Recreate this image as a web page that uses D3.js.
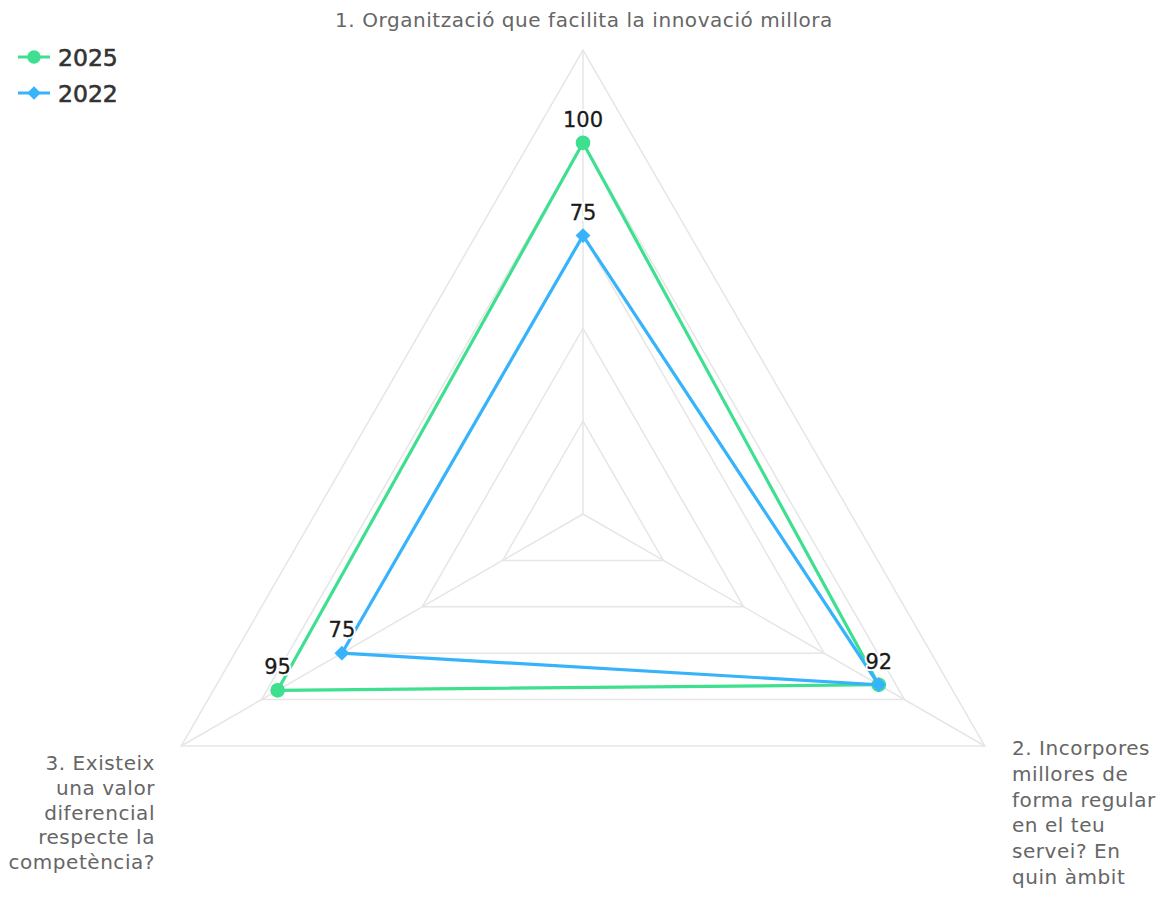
<!DOCTYPE html>
<html>
<head>
<meta charset="utf-8">
<script src="https://cdn.jsdelivr.net/npm/d3@7/dist/d3.min.js"></script>
<style>
  html, body { margin: 0; padding: 0; background: #fff; }
  svg { display: block; }
</style>
</head>
<body>
<svg id="chart" width="1166" height="897"></svg>
<script>
// Radar axes (one per question)
const categories = [
  ["1. Organització que facilita la innovació millora"],
  ["2. Incorpores", "millores de", "forma regular", "en el teu", "servei? En", "quin àmbit"],
  ["3. Existeix", "una valor", "diferencial", "respecte la", "competència?"]
];
const seriesNames = ["2025", "2022"];
const values2025 = [100, 92, 95];
const values2022 = [75, 92, 75];
const gridTicks = [25, 50, 75, 100, 125];

const colors = { "2025": "#3ee08f", "2022": "#36b3fb" };

// Highcharts-style diamond: a square turned 45 degrees
const diamond = {
  draw(ctx, size) {
    const h = Math.sqrt(size / 2);
    ctx.moveTo(0, -h); ctx.lineTo(h, 0); ctx.lineTo(0, h); ctx.lineTo(-h, 0); ctx.closePath();
  }
};

const series = [
  { name: seriesNames[0], values: values2025, symbol: d3.symbolCircle, size: 170, legendSize: 140 },
  { name: seriesNames[1], values: values2022, symbol: diamond, size: 110, legendSize: 90 }
];

const svg = d3.select("#chart");
const cx = 583, cy = 514, R = 464;

const r = d3.scaleLinear().domain([0, d3.max(gridTicks)]).range([0, R]);
const angle = d3.scaleLinear().domain([0, categories.length]).range([0, 2 * Math.PI]);
const pt = (i, v) => {
  const a = angle(i);
  return [cx + r(v) * Math.sin(a), cy - r(v) * Math.cos(a)];
};

// Polygon grid
const grid = svg.append("g");
gridTicks.forEach(t => {
  const pts = categories.map((c, i) => pt(i, t));
  grid.append("path")
    .attr("d", d3.line()(pts) + "Z")
    .attr("fill", "none")
    .attr("stroke", "#e6e6e6")
    .attr("stroke-width", 1.5);
});
// Spokes
categories.forEach((c, i) => {
  const [x, y] = pt(i, d3.max(gridTicks));
  grid.append("line")
    .attr("x1", cx).attr("y1", cy).attr("x2", x).attr("y2", y)
    .attr("stroke", "#e6e6e6").attr("stroke-width", 1.5);
});

// Axis labels
const labelFont = "'DejaVu Sans', Verdana, sans-serif";
const labelPos = [
  { x: 584, y: 27, anchor: "middle", lh: 26 },
  { x: 1012, y: 755, anchor: "start", lh: 25.8 },
  { x: 155, y: 770, anchor: "end", lh: 24.8 }
];
categories.forEach((lines, i) => {
  const p = labelPos[i];
  const t = svg.append("text")
    .attr("x", p.x).attr("y", p.y)
    .attr("text-anchor", p.anchor)
    .attr("font-family", labelFont)
    .attr("font-size", 20)
    .attr("letter-spacing", 0.55)
    .attr("fill", "#666");
  lines.forEach((ln, k) => {
    t.append("tspan").attr("x", p.x).attr("y", p.y + k * p.lh).text(ln);
  });
});

// Series lines and markers
const lineGen = d3.line().curve(d3.curveLinearClosed);
series.forEach(s => {
  const pts = s.values.map((v, i) => pt(i, v));
  const g = svg.append("g");
  g.append("path")
    .attr("d", lineGen(pts))
    .attr("fill", "none")
    .attr("stroke", colors[s.name])
    .attr("stroke-width", 3.2)
    .attr("stroke-linejoin", "round");
  g.selectAll("path.mk").data(pts).join("path")
    .attr("class", "mk")
    .attr("transform", d => `translate(${d[0]},${d[1]})`)
    .attr("d", d3.symbol().type(s.symbol).size(s.size))
    .attr("fill", colors[s.name]);
});

// Data labels
series.forEach(s => {
  s.values.forEach((v, i) => {
    const [x, y] = pt(i, v);
    const lbl = svg.append("g");
    [["#fff", 4], [null, 0]].forEach(([halo, w]) => {
      const t = lbl.append("text")
        .attr("x", x).attr("y", y - 16)
        .attr("text-anchor", "middle")
        .attr("font-family", labelFont)
        .attr("font-size", 21)
        .attr("fill", "#1a1a1a")
        .text(v);
      if (halo) t.attr("stroke", halo).attr("stroke-width", w).attr("stroke-linejoin", "round").attr("fill", halo);
      else t.attr("stroke", "#1a1a1a").attr("stroke-width", 0.3);
    });
  });
});

// Legend
const legend = svg.append("g");
series.forEach((s, k) => {
  const y = 57 + k * 36;
  legend.append("line")
    .attr("x1", 18).attr("x2", 50).attr("y1", y).attr("y2", y)
    .attr("stroke", colors[s.name]).attr("stroke-width", 3);
  legend.append("path")
    .attr("transform", `translate(34,${y})`)
    .attr("d", d3.symbol().type(s.symbol).size(s.legendSize))
    .attr("fill", colors[s.name]);
  legend.append("text")
    .attr("x", 58).attr("y", y + 8.5)
    .attr("font-family", labelFont)
    .attr("font-size", 23.5)
    .attr("fill", "#333")
    .attr("stroke", "#333")
    .attr("stroke-width", 0.6)
    .text(s.name);
});
</script>
</body>
</html>
